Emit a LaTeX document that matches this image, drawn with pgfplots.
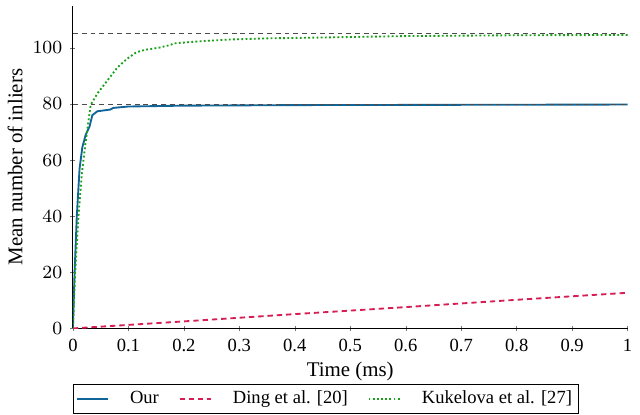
\documentclass[border=0pt]{standalone}
\usepackage{fontspec}
\setmainfont{Liberation Serif}
\usepackage{pgfplots}
\pgfplotsset{compat=1.18}
\definecolor{cblue}{RGB}{16,100,152}
\definecolor{cred}{RGB}{214,30,84}
\definecolor{cgreen}{RGB}{24,160,24}
\begin{document}
\begin{tikzpicture}
\begin{axis}[
  scale only axis,
  width=239pt, height=139pt,
  xmin=0, xmax=1, ymin=0, ymax=115,
  axis lines=left,
  axis line style={-},
  xtick={0,0.1,0.2,0.3,0.4,0.5,0.6,0.7,0.8,0.9,1},
  xticklabels={0,0.1,0.2,0.3,0.4,0.5,0.6,0.7,0.8,0.9,1},
  ytick={0,20,40,60,80,100},
  tick label style={font=\footnotesize},
  label style={font=\small},
  major tick length=2.2pt,
  tick style={black!55},
  xlabel={Time (ms)},
  ylabel={Mean number of inliers},
  xlabel style={yshift=2.5pt},
  ylabel style={at={(axis description cs:-0.091,0.5)}, anchor=base},
  legend columns=3,
  legend image code/.code={\draw[mark repeat=2,mark phase=2,#1] plot coordinates {(0pt,0pt) (6.8pt,0pt) (13.6pt,0pt)};},
  legend style={at={(0,-0.172)}, anchor=north west, draw=black, font=\footnotesize,
    inner xsep=1pt, inner ysep=0.8pt,
    /tikz/every even column/.append style={column sep=6.5pt},
    /tikz/every odd column/.append style={column sep=7pt}},
  legend cell align=left,
]
\addplot[cblue, thick] coordinates {
(0,0) (0.003,20) (0.007,40) (0.012,57) (0.017,64.6) (0.023,69) (0.03,72) (0.035,76)
(0.044,77.4) (0.067,78) (0.073,78.6) (0.1,79.1) (0.2,79.4) (0.4,79.6) (1,79.8)};
\addlegendentry{Our}
\addplot[cred, thick, dash pattern=on 2.3pt off 1.7pt] coordinates {
(0,0) (0.2,2.5) (0.4,5.1) (0.6,7.6) (0.8,10.2) (1,12.7)};
\addlegendentry{Ding et al. [20]}
\addplot[cgreen, densely dotted, thick] coordinates {
(0,0) (0.004,20) (0.01,40) (0.016,55) (0.022,65) (0.032,79.7) (0.045,84) (0.067,89.6)
(0.08,93) (0.097,96) (0.114,98.4) (0.13,99.3) (0.156,100.1) (0.175,101) (0.182,101.6)
(0.232,102.4) (0.285,103) (0.35,103.4) (0.42,103.6) (0.6,104.2) (0.8,104.5) (1,104.6)};
\addlegendentry{Kukelova et al. [27]}
\addplot[black!70, dash pattern=on 2.1pt off 1.7pt, forget plot] coordinates {(0,105) (1,105)};
\addplot[black!70, dash pattern=on 2.1pt off 1.7pt, forget plot] coordinates {(0,80) (1,80)};
\end{axis}
\path (current axis.north west) ++(0pt,2.5pt);
\end{tikzpicture}
\end{document}
